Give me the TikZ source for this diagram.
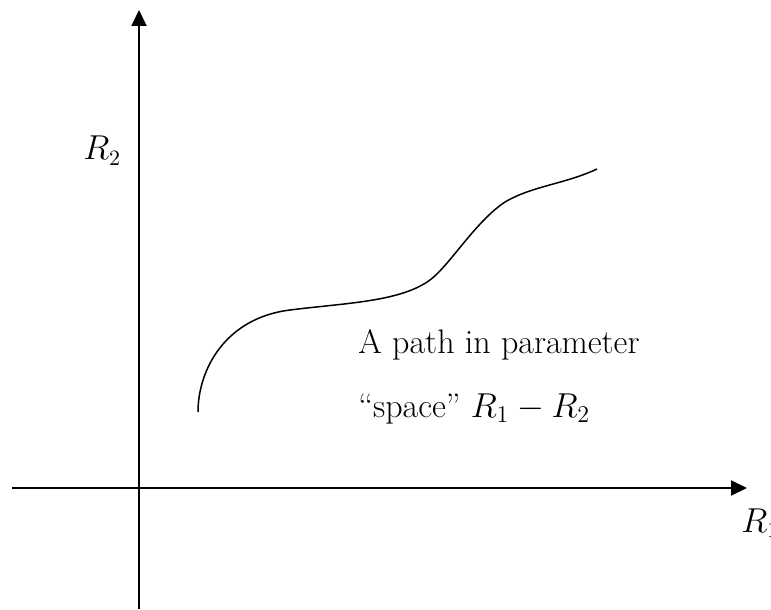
\documentclass[tikz,border=0pt]{standalone}
\usepackage{amsmath}
\usepackage{tikz}
\usetikzlibrary{
  arrows.meta, % 坐标轴箭头
  positioning  % 节点相对定位
}
\tikzset{
  axis line/.style={
    -{Triangle[length=8pt,width=7.5pt]},
    line width=1pt,
    color=black
  },
  path line/.style={
    line width=0.75pt,
    color=black
  },
  axis label/.style={
    anchor=base west,
    inner sep=0pt,
    font=\fontsize{16}{19}\selectfont
  },
  path label/.style={
    anchor=base west,
    inner sep=0pt,
    font=\fontsize{17}{20}\selectfont
  }
}

\begin{document}
\begin{tikzpicture}[x=0.5pt, y=-0.5pt] % 以参考图像素为单位，原点在左上角，y 向下
  \useasboundingbox (0,0) rectangle (771,610); % 固定画布大小与参考图一致

  % 坐标轴端点
  \coordinate (O) at (139,488);    % 原点，两轴交点
  \coordinate (Xl) at (12,488);    % 横轴左端
  \coordinate (Xr) at (747,488);   % 横轴右端（箭头尖）
  \coordinate (Yb) at (139,609);   % 纵轴下端
  \coordinate (Yt) at (139,10);    % 纵轴上端（箭头尖）

  % 画坐标轴
  \draw[axis line] (Xl) -- (Xr); % 横轴 R_1
  \draw[axis line] (Yb) -- (Yt); % 纵轴 R_2

  % 轴标签
  \node[axis label] (r1) at (741,532) {$R_1$}; % 横轴标签，在箭头右下方
  \node[axis label] (r2) at (83,160) {$R_2$};  % 纵轴标签，在纵轴左侧

  % 路径上的几个关键点
  \coordinate (P0) at (198,412); % 起点，左下
  \coordinate (P1) at (290,310); % 第一个弯之后
  \coordinate (P2) at (430,280); % 平缓段结束
  \coordinate (P3) at (505,202); % 陡升段结束
  \coordinate (P4) at (597,169); % 终点，右上

  % 参数空间中的路径（分段贝塞尔曲线）
  \draw[path line] (P0) .. controls (198,370) and (225,318) .. (P1)
    .. controls (345,303) and (400,302) .. (P2)
    .. controls (450,265) and (475,222) .. (P3)
    .. controls (532,186) and (565,184) .. (P4); % 从左下弯曲上升到右上

  % 路径说明文字
  \node[path label] (txt1) at (358,353) {A path in parameter}; % 第一行
  \node[path label] (txt2) at (358,417) {``space'' $R_1 - R_2$}; % 第二行
\end{tikzpicture}
\end{document}
